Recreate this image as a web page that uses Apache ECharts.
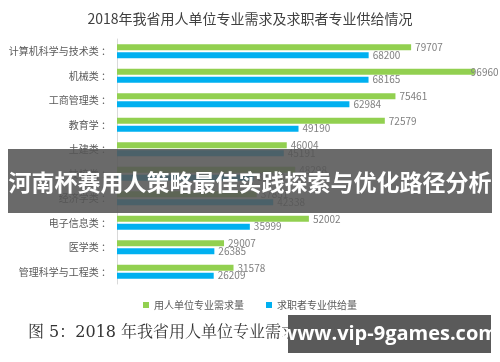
<!DOCTYPE html>
<html><head><meta charset="utf-8">
<script src="https://cdn.jsdelivr.net/npm/echarts@6/dist/echarts.min.js"></script>
<style>html,body{margin:0;padding:0;background:#fff}#c{width:500px;height:362px}</style>
</head><body><div id="c"></div>
<script>
const categories = ['计算机科学与技术类','机械类','工商管理类','教育学','土建类','技校类','经济学类','电子信息类','医学类','管理科学与工程类'];
const demand = [79707, 96960, 75461, 72579, 46004, 48298, 37851, 52002, 29007, 31578];
const supply = [68200, 68165, 62984, 49190, 45191, 37000, 42338, 35999, 26385, 26209];
const seriesNames = ['用人单位专业需求量','求职者专业供给量'];
const titleText = '2018年我省用人单位专业需求及求职者专业供给情况';
const captionText = '图 5：2018 年我省用人单位专业需求及求职者专业供给情况';
const bannerText = '河南杯赛用人策略最佳实践探索与优化路径分析';
const watermarkText = 'www.vip-9games.com';

const chart = echarts.init(document.getElementById('c'), null, {renderer:'canvas'});
const lbl = {show:true, position:'right', distance:4, color:'#7f7f7f', fontSize:10, fontFamily:'Noto Sans CJK SC'};
const maxDemand = Math.max(...demand);
const demandData = demand.map(v => v === maxDemand ? {value:v, label:{distance:-4}} : v);
chart.setOption({
  animation:false,
  title:{text:titleText, left:'center', top:7, textStyle:{fontSize:14, fontWeight:'normal', color:'#404040', fontFamily:'Noto Sans CJK SC'}},
  grid:{left:117, right:14, top:39, bottom:78, containLabel:false},
  xAxis:{type:'value', min:0, max:100000, show:false},
  yAxis:{type:'category', data:categories, inverse:true,
    axisLine:{show:true, lineStyle:{color:'#d9d9d9'}}, axisTick:{show:false},
    axisLabel:{formatter:'{value} ：', color:'#595959', fontSize:10, margin:6, fontFamily:'Noto Sans CJK SC'}},
  legend:{bottom:47, left:'center', itemWidth:6, itemHeight:6, itemGap:22, icon:'rect',
    textStyle:{color:'#595959', fontSize:10, fontFamily:'Noto Sans CJK SC'}},
  series:[
    {name:seriesNames[0], type:'bar', data:demandData, barWidth:6, barGap:'30%', itemStyle:{color:'#92D050'}, label:lbl},
    {name:seriesNames[1], type:'bar', data:supply, barWidth:6, barGap:'30%', itemStyle:{color:'#00B0F0'}, label:lbl}
  ],
  graphic:[
    {type:'text', left:28, top:325, z:10, style:{text:captionText, fill:'#333', font:'16px "DejaVu Serif", "Noto Serif CJK SC", serif'}},
    {type:'rect', shape:{x:8, y:149, width:484, height:64}, z:100, style:{fill:'rgba(85,85,85,0.88)'}},
    {type:'text', x:250, y:182, z:101, style:{text:bannerText, fill:'#fff', font:'bold 23px "Noto Sans CJK SC"', textAlign:'center', textVerticalAlign:'middle'}},
    {type:'rect', shape:{x:288, y:315, width:203, height:38}, z:100, style:{fill:'#5a5a5a'}},
    {type:'text', x:389, y:334, z:101, style:{text:watermarkText, fill:'#fff', font:'bold 20px "Open Sans", "DejaVu Sans", sans-serif', textAlign:'center', textVerticalAlign:'middle'}}
  ]
});
</script></body></html>
